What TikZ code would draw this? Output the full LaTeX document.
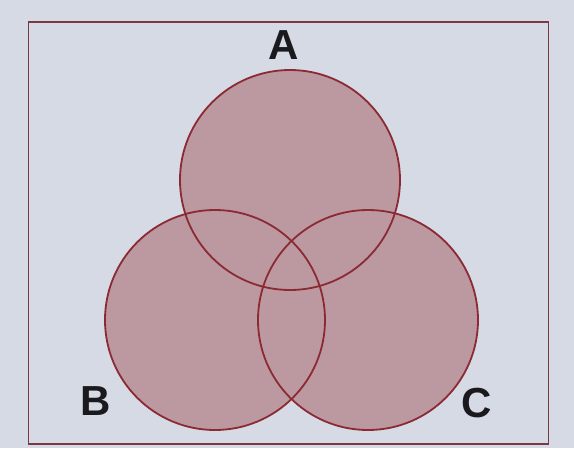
\documentclass[tikz,border=0pt]{standalone}
\usepackage{fontspec}
\setmainfont{Liberation Sans}
\definecolor{bg}{RGB}{214,218,228}
\definecolor{setfill}{RGB}{188,152,160}
\definecolor{setline}{RGB}{140,42,52}
\definecolor{framecol}{RGB}{125,55,65}
\definecolor{labelcol}{RGB}{25,25,30}
\tikzset{
  setfillstyle/.style={circle, minimum size=220pt, inner sep=0pt, fill=setfill, draw=none},
  setedge/.style={circle, minimum size=220pt, inner sep=0pt, draw=setline, line width=1.8pt},
  setlabel/.style={font=\fontsize{42}{42}\selectfont\bfseries, text=labelcol, inner sep=0pt}
}
\begin{document}
\begin{tikzpicture}[x=1pt,y=-1pt]
\fill[bg] (0,0) rectangle (574,448);
\useasboundingbox (0,0) rectangle (574,448);
\node[draw=framecol, line width=1.8pt, minimum width=520pt, minimum height=422pt, inner sep=0pt] (universe) at (288.5,233) {};
\node[setfillstyle] (fa) at (290,180) {};
\node[setfillstyle] (fb) at (215,320) {};
\node[setfillstyle] (fc) at (368,320) {};
\node[setedge] (A) at (290,180) {};
\node[setedge] (B) at (215,320) {};
\node[setedge] (C) at (368,320) {};
\node[setlabel] (la) at (284,45) {A};
\node[setlabel] (lb) at (96,401) {B};
\node[setlabel] (lc) at (477,403) {C};
\end{tikzpicture}
\end{document}
